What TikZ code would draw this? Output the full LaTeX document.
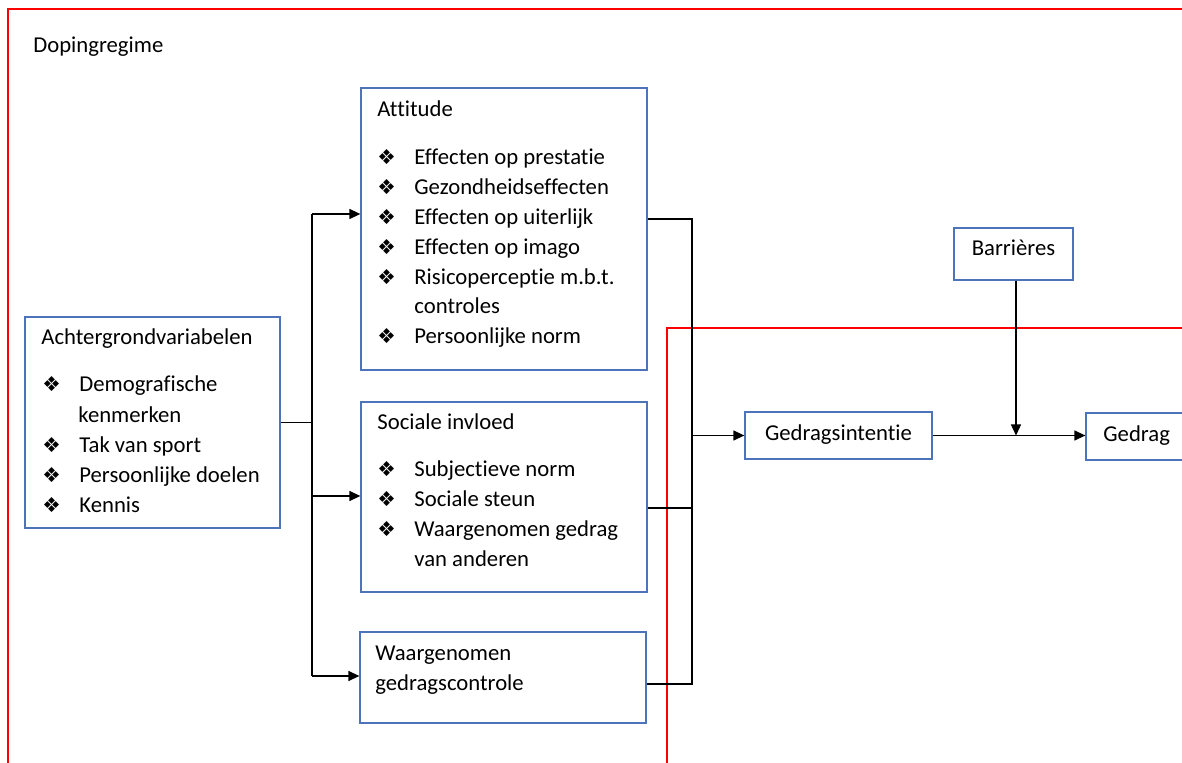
\documentclass[tikz,border=0pt]{standalone}
\usepackage{fontspec}
\setmainfont{Carlito}[RawFeature={-liga}]
\newfontfamily\dejavu{DejaVu Sans}
\usetikzlibrary{arrows.meta,fit}
\definecolor{boxblue}{HTML}{4D74BA}
\definecolor{framered}{HTML}{FF0000}
\newcommand{\bul}{{\dejavu\fontsize{10.3pt}{10pt}\selectfont ❖}}
\newcommand{\bitem}[1]{\makebox[18.5pt][l]{\bul}#1}
\begin{document}
\begin{tikzpicture}[x=0.5pt,y=-0.5pt,
  box/.style={draw=boxblue,line width=0.65pt,inner sep=0pt},
  txt/.style={anchor=base west,inner sep=0pt,font=\fontsize{11.35pt}{14pt}\selectfont},
  conn/.style={line width=0.65pt,black},
  arr/.style={conn,-{Triangle[length=5.5pt,width=5pt]}},
  frame/.style={draw=framered,line width=0.55pt}]
\useasboundingbox (0,0) rectangle (1182,763);
\begin{scope}
\clip (0,0) rectangle (1182,763);
% frames
\draw[frame] (8,800) -- (8,9) -- (1250,9);
\draw[frame] (667,800) -- (667,328) -- (1250,328);
\node[txt] (dop) at (33,53) {Dopingregime};
% boxes
\node[box,fit={(25,317) (280,528)}] (ach) {};
\node[box,fit={(361,88) (647,370)}] (att) {};
\node[box,fit={(361,402) (647,592)}] (soc) {};
\node[box,fit={(360,632) (646,723)}] (wgc) {};
\node[box,fit={(954,228) (1073,280)}] (bar) {};
\node[box,fit={(745,412) (932,459)}] (gi) {};
\node[box,fit={(1086,413) (1210,460)}] (gd) {};
% Achtergrond text
\node[txt] (a0) at (41,345) {Achtergrondvariabelen};
\node[txt] (a1) at (42,392) {\bitem{Demografische}};
\node[txt] (a1b) at (78,423) {kenmerken};
\node[txt] (a2) at (42,453) {\bitem{Tak van sport}};
\node[txt] (a3) at (42,483) {\bitem{Persoonlijke doelen}};
\node[txt] (a4) at (42,513) {\bitem{Kennis}};
% Attitude text
\node[txt] (t0) at (377,117) {Attitude};
\node[txt] (t1) at (377,165) {\bitem{Effecten op prestatie}};
\node[txt] (t2) at (377,194.8) {\bitem{Gezondheidseffecten}};
\node[txt] (t3) at (377,224.6) {\bitem{Effecten op uiterlijk}};
\node[txt] (t4) at (377,254.4) {\bitem{Effecten op imago}};
\node[txt] (t5) at (377,284.2) {\bitem{Risicoperceptie m.b.t.}};
\node[txt] (t5b) at (414,314) {controles};
\node[txt] (t6) at (377,343.8) {\bitem{Persoonlijke norm}};
% Sociale invloed text
\node[txt] (s0) at (377,430) {Sociale invloed};
\node[txt] (s1) at (377,477) {\bitem{Subjectieve norm}};
\node[txt] (s2) at (377,507) {\bitem{Sociale steun}};
\node[txt] (s3) at (377,537) {\bitem{Waargenomen gedrag}};
\node[txt] (s3b) at (414,567) {van anderen};
% Waargenomen gedragscontrole
\node[txt] (w0) at (375,660) {Waargenomen};
\node[txt] (w1) at (375,690) {gedragscontrole};
% small boxes text
\coordinate (by) at (0,256);
\coordinate (gy) at (0,441);
\node[txt,anchor=base] (bt) at (bar.center |- by) {Barrières};
\node[txt,anchor=base] (gt) at (gi.center |- gy) {Gedragsintentie};
\node[txt] (gdt) at (1103,442) {Gedrag};
% left connectors
\coordinate (l1) at (312,214);
\coordinate (l2) at (312,496);
\coordinate (l3) at (312,676);
\draw[conn] (ach.east) -- (ach.east -| l1);
\draw[conn] (l1) -- (l3);
\draw[arr] (l1) -- (l1 -| att.west);
\draw[arr] (l2) -- (l2 -| soc.west);
\draw[arr] (l3) -- (l3 -| wgc.west);
% right connectors
\coordinate (r1) at (692,219);
\coordinate (r2) at (692,508);
\coordinate (r3) at (692,684);
\draw[conn] (r1 -| att.east) -- (r1) -- (r3) -- (r3 -| wgc.east);
\draw[conn] (r2 -| soc.east) -- (r2);
\draw[arr] (r1 |- gi.west) -- (gi.west);
\draw[arr] (gi.east) -- (gi.east -| gd.west);
\coordinate (bx) at (1016,280);
\draw[arr] (bx |- bar.south) -- (bx |- gi.east);
\end{scope}
\end{tikzpicture}
\end{document}
